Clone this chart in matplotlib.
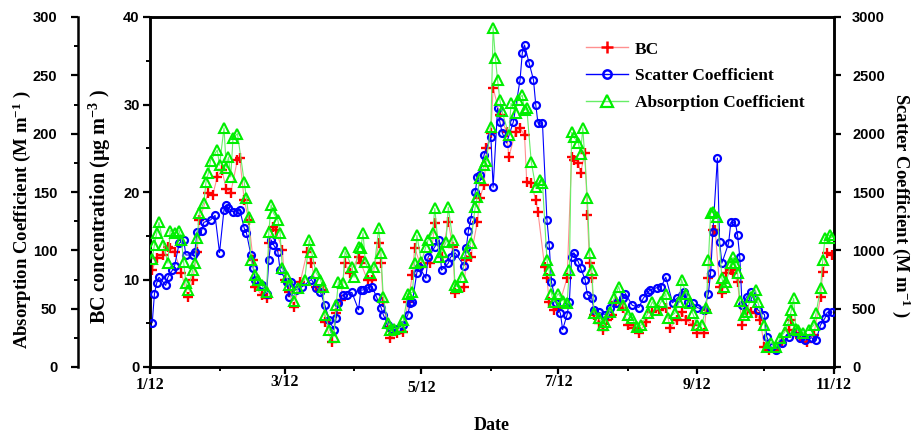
import numpy as np
import matplotlib
matplotlib.use("Agg")
import matplotlib.pyplot as plt
import matplotlib.transforms as mtrans
from matplotlib.ticker import MultipleLocator, FixedLocator
from matplotlib.lines import Line2D

# ---------------- data (day offset from 2012-01-01, value) ----------------
bc_days = [1, 3, 6, 8, 9, 11, 14, 17, 19, 21, 22, 26, 28, 30, 32, 34, 36, 39, 40, 42,
           44, 46, 47, 50, 52, 53, 55, 56, 59, 60, 62, 64, 67, 70, 72, 74, 77, 78, 81, 83,
           85, 87, 89, 93, 94, 97, 99, 102, 103, 104, 106, 107, 110, 113, 115, 117, 118, 121, 125, 127,
           130, 133, 135, 136, 140, 141, 143, 146, 147, 149, 150, 152, 153, 156, 159, 160, 163, 165, 167, 168,
           170, 172, 173, 176, 177, 178, 180, 182, 186, 188, 189, 191, 192, 194, 195, 196, 197, 198, 200, 202,
           204, 206, 208, 211, 213, 216, 218, 221, 224, 227, 230, 232, 235, 237, 239, 242, 244, 247, 248, 249,
           251, 252, 254, 255, 257, 259, 260, 262, 264, 266, 268, 270, 272, 274, 276, 279, 282, 285, 286, 288,
           290, 293, 296, 299, 300, 302, 304]
bc_values = [11.1, 12.5, 12.8, 13.7, 13.6, 13.1, 10.7, 8.0, 9.9, 13.1, 16.8, 19.9, 19.7, 21.7, 22.5, 20.4, 19.9, 23.7, 23.9, 19.1,
             16.8, 12.2, 9.1, 8.2, 7.9, 14.2, 16.0, 15.7, 13.4, 9.9, 8.6, 6.9, 9.7, 13.1, 11.9, 9.1, 8.8, 5.1, 2.9, 6.2,
             7.7, 11.9, 10.7, 12.6, 11.9, 9.9, 9.9, 14.2, 11.9, 7.4, 4.6, 3.3, 3.9, 4.0, 7.4, 10.5, 13.6, 11.4, 11.9, 16.5,
             12.6, 16.6, 13.7, 8.5, 9.1, 12.2, 12.6, 16.6, 19.3, 20.8, 25.0, 26.7, 31.9, 28.8, 26.9, 24.0, 26.9, 27.3, 26.5, 21.1,
             21.0, 19.1, 17.7, 11.4, 10.2, 7.4, 6.5, 6.7, 10.2, 24.0, 23.7, 23.3, 22.2, 24.5, 17.4, 11.9, 10.2, 5.9, 5.0, 4.2,
             5.4, 5.9, 7.4, 6.7, 4.8, 4.5, 3.9, 5.1, 6.3, 6.5, 6.7, 4.5, 5.4, 6.3, 5.4, 4.8, 3.9, 3.9, 6.5, 10.2,
             15.7, 15.7, 9.1, 8.5, 10.7, 11.1, 10.7, 9.7, 4.8, 6.5, 6.3, 6.2, 5.4, 2.3, 1.9, 1.9, 2.7, 4.2, 5.4, 3.9,
             3.3, 2.9, 3.7, 8.0, 10.9, 13.0, 12.8]

scatter_days = [1, 2, 3, 4, 7, 8, 10, 11, 13, 15, 16, 19, 20, 21, 23, 24, 27, 29, 31, 33,
                34, 35, 37, 39, 40, 42, 43, 45, 46, 47, 50, 52, 53, 54, 55, 57, 58, 61, 62, 63,
                65, 68, 72, 74, 76, 78, 80, 82, 83, 84, 86, 88, 90, 93, 94, 95, 97, 99, 101, 103,
                104, 106, 108, 110, 113, 115, 116, 117, 119, 120, 123, 124, 127, 129, 130, 133, 134, 136, 140, 141,
                142, 143, 145, 146, 147, 149, 152, 153, 155, 156, 157, 159, 162, 165, 166, 167, 169, 171, 172, 173,
                175, 177, 178, 179, 181, 183, 184, 186, 187, 188, 189, 191, 192, 194, 195, 197, 198, 200, 203, 205,
                208, 211, 212, 215, 218, 220, 222, 223, 226, 228, 230, 233, 235, 237, 238, 240, 242, 244, 247, 249,
                250, 251, 253, 254, 255, 258, 259, 261, 262, 263, 264, 266, 268, 269, 271, 274, 275, 277, 279, 282,
                285, 288, 290, 292, 295, 297, 299, 301, 302, 304]
scatter_values = [380, 630, 720, 770, 700, 770, 830, 870, 1060, 1090, 960, 960, 990, 1160, 1170, 1240, 1260, 1300, 980, 1350,
                  1390, 1360, 1330, 1330, 1350, 1190, 1150, 960, 850, 750, 700, 630, 920, 1090, 1050, 990, 830, 730, 600, 730,
                  660, 690, 750, 680, 640, 530, 400, 320, 420, 550, 620, 620, 640, 490, 660, 660, 680, 690, 600, 510,
                  450, 360, 330, 330, 360, 450, 550, 560, 810, 860, 760, 940, 1030, 1090, 830, 890, 940, 980, 870, 1020,
                  1170, 1260, 1500, 1630, 1650, 1820, 1970, 1540, 2220, 2100, 2010, 1920, 2100, 2460, 2690, 2760, 2610, 2460, 2250, 2090,
                  2090, 1260, 1050, 730, 550, 460, 320, 450, 560, 940, 980, 900, 850, 750, 620, 590, 490, 470, 450, 510,
                  550, 590, 630, 530, 510, 590, 640, 660, 680, 690, 770, 550, 590, 620, 640, 560, 550, 510, 490, 630,
                  810, 1160, 1790, 1070, 890, 1060, 1240, 1240, 1130, 940, 530, 600, 640, 590, 490, 450, 260, 170, 150, 210,
                  260, 300, 250, 230, 250, 230, 360, 420, 470, 470]

abs_days = [1, 2, 3, 4, 6, 8, 9, 11, 13, 14, 15, 16, 17, 19, 20, 21, 22, 24, 25, 26,
            27, 30, 31, 33, 34, 35, 36, 37, 39, 42, 43, 44, 45, 47, 48, 50, 52, 53, 54, 55,
            57, 58, 59, 61, 62, 64, 66, 69, 71, 72, 74, 76, 77, 78, 80, 82, 83, 84, 86, 87,
            90, 91, 93, 94, 95, 96, 98, 100, 102, 103, 104, 106, 107, 109, 112, 113, 115, 117, 118, 119,
            121, 123, 124, 126, 127, 129, 130, 132, 133, 135, 136, 137, 139, 141, 143, 145, 146, 147, 149, 150,
            152, 153, 154, 155, 156, 157, 160, 161, 163, 164, 166, 167, 168, 170, 172, 174, 175, 177, 178, 179,
            180, 182, 184, 186, 187, 188, 189, 191, 192, 193, 195, 196, 197, 198, 200, 202, 203, 205, 207, 209,
            211, 213, 215, 217, 219, 222, 224, 226, 228, 230, 231, 234, 236, 237, 239, 241, 242, 244, 246, 248,
            249, 250, 251, 253, 255, 256, 257, 259, 260, 261, 262, 263, 265, 266, 268, 270, 271, 274, 275, 277,
            279, 281, 283, 285, 286, 287, 288, 289, 291, 294, 296, 297, 299, 300, 301, 303, 304]
abs_values = [93, 105, 115, 124, 105, 89, 117, 115, 117, 109, 90, 72, 66, 83, 89, 111, 132, 141, 159, 166,
              177, 186, 173, 205, 171, 180, 163, 196, 200, 159, 145, 129, 92, 79, 75, 70, 64, 116, 139, 132,
              126, 115, 85, 77, 70, 57, 68, 75, 109, 99, 81, 75, 69, 45, 32, 26, 53, 73, 72, 99,
              86, 77, 103, 102, 115, 90, 81, 86, 119, 98, 60, 38, 32, 33, 34, 40, 63, 64, 89, 113,
              90, 103, 109, 115, 136, 94, 99, 107, 137, 109, 70, 69, 77, 98, 106, 137, 146, 162, 173, 177,
              206, 291, 265, 246, 229, 219, 199, 226, 218, 229, 233, 220, 222, 176, 154, 160, 158, 92, 83, 63,
              56, 63, 57, 55, 83, 201, 197, 192, 183, 205, 145, 98, 83, 46, 42, 36, 39, 47, 59, 69,
              53, 45, 42, 34, 36, 46, 56, 49, 56, 63, 42, 46, 56, 75, 63, 55, 46, 36, 36, 51,
              92, 132, 133, 129, 76, 69, 73, 89, 94, 89, 81, 57, 45, 47, 60, 66, 56, 36, 17, 21,
              17, 25, 30, 40, 49, 59, 33, 32, 29, 32, 36, 46, 68, 92, 111, 113, 111]

tick_days = [0, 60, 121, 182, 244, 305]
tick_labels = ["1/12", "3/12", "5/12", "7/12", "9/12", "11/12"]
minor_days = [31, 91, 152, 213, 274]

# ---------------- figure ----------------
SERIF = "Liberation Serif"
SANS = "Liberation Sans"
plt.rcParams["mathtext.fontset"] = "custom"
plt.rcParams["mathtext.rm"] = SERIF
plt.rcParams["mathtext.bf"] = SERIF + ":bold"
plt.rcParams["mathtext.it"] = SERIF + ":italic"

fig = plt.figure(figsize=(9.15, 4.33), dpi=100)
rect = [150/915, 1-367/433, 684/915, 350/433]
ax = fig.add_axes(rect)
ax_sc = fig.add_axes(rect, sharex=ax)
ax_ab = fig.add_axes(rect, sharex=ax)
for a in (ax_sc, ax_ab):
    a.patch.set_visible(False)
    a.xaxis.set_visible(False)

lw_sp = 1.8
for a in (ax, ax_sc, ax_ab):
    for s in a.spines.values():
        s.set_linewidth(lw_sp)

# BC (main)
ax.plot(bc_days, bc_values, color="#ff9090", lw=0.8, marker="+", ms=7,
        mew=1.7, mec="#ff0000", zorder=3)
ax.set_xlim(0, 305)
ax.set_ylim(0, 40)
ax.yaxis.set_major_locator(MultipleLocator(10))
ax.yaxis.set_minor_locator(MultipleLocator(5))
ax.xaxis.set_major_locator(FixedLocator(tick_days))
ax.xaxis.set_minor_locator(FixedLocator(minor_days))
ax.set_xticklabels(tick_labels)
ax.tick_params(axis="both", which="major", direction="out", length=5, width=1.6)
ax.tick_params(axis="both", which="minor", direction="out", length=3, width=1.4)
ax.tick_params(axis="y", which="major", pad=2.5)
ax.tick_params(axis="x", which="major", pad=2)
for lab in ax.get_yticklabels():
    lab.set_fontfamily(SANS); lab.set_fontweight("bold"); lab.set_fontsize(10.5)
dy_px = [0, -3, 3, -3, 0, 0]
for lab, d in zip(ax.get_xticklabels(), dy_px):
    lab.set_fontfamily(SERIF); lab.set_fontweight("bold"); lab.set_fontsize(11.5)
    lab.set_transform(lab.get_transform() +
                      mtrans.ScaledTranslation(0, -d / 100.0, fig.dpi_scale_trans))
ax.set_ylabel("BC concentration (\u03bcg m$^{\\mathbf{-3}}$ )", fontfamily=SERIF,
              fontweight="bold", fontsize=14.5)
ax.yaxis.set_label_coords(-0.054, 0.46)
ax.set_xlabel("Date", fontfamily=SERIF, fontweight="bold", fontsize=13)
ax.xaxis.set_label_coords(0.5, -0.143)

# Scatter (right)
ax_sc.plot(scatter_days, scatter_values, color="#0000ff", lw=0.8, marker="o", ms=5,
           mew=1.6, mfc="none", mec="#0000ff", zorder=3)
ax_sc.set_ylim(0, 3000)
ax_sc.yaxis.tick_right()
ax_sc.yaxis.set_label_position("right")
ax_sc.yaxis.set_major_locator(MultipleLocator(500))
ax_sc.tick_params(axis="y", which="major", direction="out", length=5, width=1.6, pad=8)
for lab in ax_sc.get_yticklabels():
    lab.set_fontfamily(SANS); lab.set_fontweight("bold"); lab.set_fontsize(10.5)
ax_sc.set_ylabel("Scatter Coefficient (M m$^{\\mathbf{-1}}$ )", fontfamily=SERIF,
                 fontweight="bold", fontsize=13.5, rotation=-90, va="center")
ax_sc.yaxis.set_label_coords(1.098, 0.46)

# Absorption (outer left)
ax_ab.plot(abs_days, abs_values, color="#66ee66", lw=0.8, marker="^", ms=7,
           mew=1.5, mfc="none", mec="#00ee00", zorder=3)
ax_ab.set_ylim(0, 300)
for side in ("right", "top", "bottom"):
    ax_ab.spines[side].set_visible(False)
ax_ab.spines["left"].set_position(("outward", 72 * 0.72))
ax_ab.spines["left"].set_visible(True)
ax_ab.spines["left"].set_color("black")
ax_ab.yaxis.tick_left()
ax_ab.yaxis.set_label_position("left")
ax_ab.yaxis.set_major_locator(MultipleLocator(50))
ax_ab.yaxis.set_minor_locator(MultipleLocator(25))
ax_ab.tick_params(axis="y", which="major", direction="out", length=5, width=1.6, pad=10)
ax_ab.tick_params(axis="y", which="minor", direction="out", length=3, width=1.4)
for lab in ax_ab.get_yticklabels():
    lab.set_fontfamily(SANS); lab.set_fontweight("bold"); lab.set_fontsize(10.5)
ax_ab.set_ylabel("Absorption Coefficient (M m$^{\\mathbf{-1}}$ )", fontfamily=SERIF,
                 fontweight="bold", fontsize=13.5)
ax_ab.yaxis.set_label_coords(-0.171, 0.42)

# Legend
handles = [
    Line2D([], [], color="#ff9090", lw=1, marker="+", ms=9, mew=1.8, mec="#ff0000"),
    Line2D([], [], color="#0000ff", lw=1, marker="o", ms=6, mew=1.8, mfc="none", mec="#0000ff"),
    Line2D([], [], color="#66ee66", lw=1, marker="^", ms=8, mew=1.6, mfc="none", mec="#00ee00"),
]
labels = ["BC", "Scatter Coefficient", "Absorption Coefficient"]
ax_ab.legend(handles, labels, loc="upper left", bbox_to_anchor=(0.615, 0.975),
             frameon=False, handlelength=2.4, labelspacing=0.6, handletextpad=0.4,
             prop={"family": SERIF, "weight": "bold", "size": 12.5})

fig.savefig("out.png", dpi=100)
